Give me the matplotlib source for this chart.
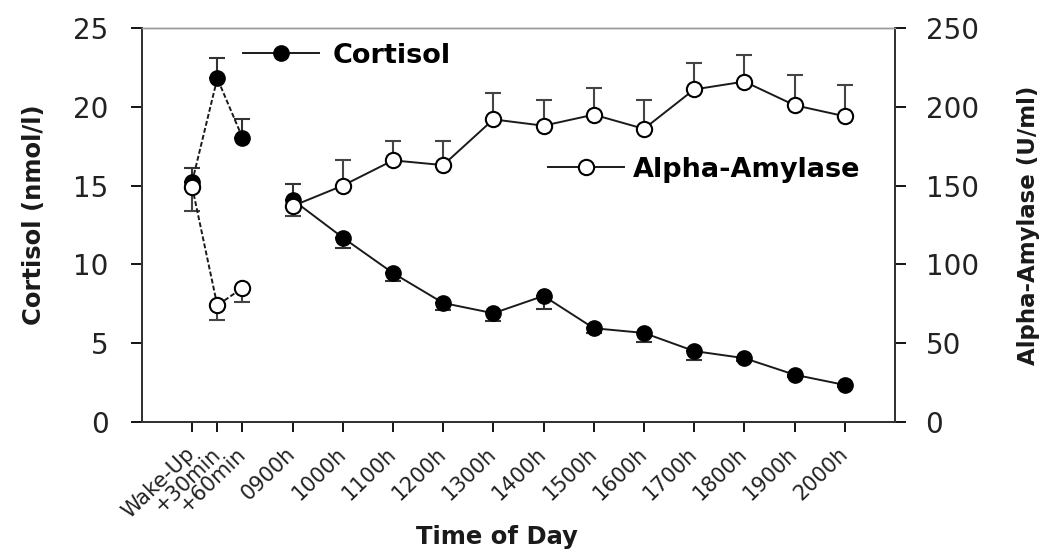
import matplotlib
matplotlib.use('Agg')
import matplotlib.pyplot as plt
import numpy as np

plt.rcParams['font.family'] = ['DejaVu Sans']

# %% Données

labels = ['Wake-Up', '+30min', '+60min', '0900h', '1000h', '1100h', '1200h',
          '1300h', '1400h', '1500h', '1600h', '1700h', '1800h', '1900h', '2000h']
pos = [0, 0.5, 1, 2, 3, 4, 5, 6, 7, 8, 9, 10, 11, 12, 13]

cortisol = [15.25, 21.8, 18.05, 14.1, 11.7, 9.45, 7.55, 6.9, 8.0, 5.95, 5.65, 4.5, 4.05, 3.0, 2.35]
cort_up = [0.85, 1.3, 1.15, 1.0, 0, 0, 0, 0, 0, 0, 0, 0, 0, 0, 0]
cort_down = [0, 0, 0, 0, 0.65, 0.5, 0.45, 0.5, 0.85, 0.3, 0.6, 0.55, 0.2, 0.15, 0.1]

amylase = [149, 74, 85, 137, 150, 166, 163, 192, 188, 195, 186, 211, 216, 201, 194]
amy_up = [0, 0, 0, 0, 16, 12, 15, 17, 16, 17, 18, 17, 17, 19, 20]
amy_down = [15, 9, 9, 6, 0, 0, 0, 0, 0, 0, 0, 0, 0, 0, 0]

# %% Figure

fig = plt.figure(figsize=(10.55, 5.53), dpi=100)
ax = fig.add_axes([0.1346, 0.2369, 0.7137, 0.7125])
ax2 = ax.twinx()

ms = 11
lc = '#1a1a1a'
# réveil (pointillés) puis journée (trait plein)
ax.errorbar(pos, cortisol, yerr=[cort_down, cort_up], fmt='none', ecolor='#333333',
            elinewidth=1.5, capsize=6, capthick=1.5, zorder=2)
ax.plot(pos[:3], cortisol[:3], ls=(0, (2.5, 1.2)), color=lc, lw=1.4,
        marker='o', ms=ms, mfc='black', mec='black', zorder=3)
l1, = ax.plot(pos[3:], cortisol[3:], '-', color=lc, lw=1.4,
              marker='o', ms=ms, mfc='black', mec='black', zorder=3)

ax2.errorbar(pos, amylase, yerr=[amy_down, amy_up], fmt='none', ecolor='#444444',
             elinewidth=1.5, capsize=6, capthick=1.5, zorder=2)
ax2.plot(pos[:3], amylase[:3], ls=(0, (2.5, 1.2)), color=lc, lw=1.4,
         marker='o', ms=ms, mfc='white', mec='black', mew=1.5, zorder=3)
l2, = ax2.plot(pos[3:], amylase[3:], '-', color=lc, lw=1.4,
               marker='o', ms=ms, mfc='white', mec='black', mew=1.5, zorder=3)

ax.set_xlim(-1, 14)
ax.set_ylim(0, 25)
ax2.set_ylim(0, 250)
ax.set_yticks(range(0, 26, 5))
ax2.set_yticks(range(0, 251, 50))
ax.set_xticks(pos)
ax.set_xticklabels(labels, rotation=44, ha='right', va='center',
                   rotation_mode='anchor', fontsize=15, color='#222222')

ax.tick_params(axis='y', labelsize=20, length=8, width=1.3, direction='out', pad=16,
               labelcolor='#222222')
ax2.tick_params(axis='y', labelsize=20, length=8, width=1.3, direction='out', pad=14,
                labelcolor='#222222')
ax.tick_params(axis='x', length=7, width=1.3, direction='out', pad=14)
for a in (ax, ax2):
    for s in a.spines.values():
        s.set_linewidth(1.4)
        s.set_color('#333333')
    a.spines['top'].set_color('#999999')
    a.spines['top'].set_linewidth(1.0)

ax.set_ylabel('Cortisol (nmol/l)', fontsize=17.5, fontweight='bold', color='#1a1a1a')
ax.yaxis.set_label_coords(-0.127, 0.525)
ax2.set_ylabel('Alpha-Amylase (U/ml)', fontsize=16.5, fontweight='bold', color='#1a1a1a')
ax2.yaxis.set_label_coords(1.162, 0.5)
ax.set_xlabel('Time of Day', fontsize=17.5, fontweight='bold', color='#1a1a1a')
ax.xaxis.set_label_coords(0.471, -0.262)

leg1 = ax2.legend([l1], ['Cortisol'], loc='center left', bbox_to_anchor=(0.134, 0.93),
                  frameon=False, borderpad=0, borderaxespad=0, handlelength=2.8,
                  handletextpad=0.5, prop={'size': 19.5, 'weight': 'bold'})
ax2.add_artist(leg1)
ax2.legend([l2], ['Alpha-Amylase'], loc='center left', bbox_to_anchor=(0.539, 0.64),
           frameon=False, borderpad=0, borderaxespad=0, handlelength=2.8,
           handletextpad=0.35, prop={'size': 19.5, 'weight': 'bold'})

plt.savefig('out.png', dpi=100)
